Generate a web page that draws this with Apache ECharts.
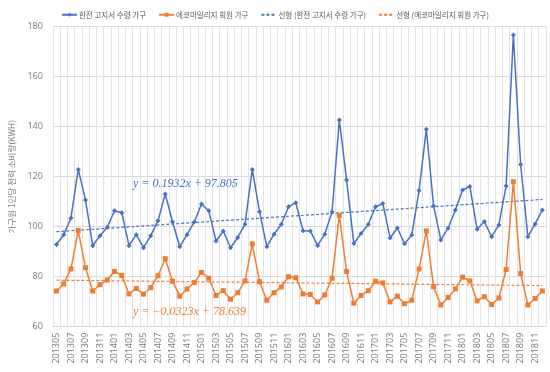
<!DOCTYPE html>
<html><head><meta charset="utf-8">
<script src="https://cdn.jsdelivr.net/npm/echarts@6/dist/echarts.min.js"></script>
<style>html,body{margin:0;padding:0;background:#fff}#c{width:550px;height:372px}</style>
</head><body><div id="c"></div>
<script>
const categories = [
 '201305','201306','201307','201308','201309','201310','201311','201312',
 '201401','201402','201403','201404','201405','201406','201407','201408','201409','201410','201411','201412',
 '201501','201502','201503','201504','201505','201506','201507','201508','201509','201510','201511','201512',
 '201601','201602','201603','201604','201605','201606','201607','201608','201609','201610','201611','201612',
 '201701','201702','201703','201704','201705','201706','201707','201708','201709','201710','201711','201712',
 '201801','201802','201803','201804','201805','201806','201807','201808','201809','201810','201811','201812'
];
const kepcoValues = [
 92.9,96.8,103.5,122.9,110.7,92.4,96.4,99.8,
 106.4,105.6,92.4,96.8,91.6,96.4,102.4,113.1,102.0,92.0,96.8,101.9,
 109.1,106.4,94.3,98.3,91.6,95.7,101.0,122.9,106.0,92.0,97.0,101.0,
 108.0,109.6,98.4,98.3,92.5,97.0,106.0,142.7,118.7,93.3,97.3,101.0,
 108.0,109.3,95.5,99.5,93.2,96.7,114.5,139.0,108.3,94.7,99.4,106.7,
 114.7,116.1,99.0,102.1,96.0,100.7,116.3,176.7,124.9,96.0,101.1,106.7
];
const ecoValues = [
 74.3,77.1,83.1,98.5,83.6,74.3,76.8,78.7,
 82.1,80.5,73.1,75.3,73.0,75.6,80.4,87.2,78.2,72.2,75.1,77.7,
 81.7,79.4,72.5,74.4,71.0,73.6,78.3,93.1,78.0,70.6,73.6,75.9,
 80.0,79.6,73.1,72.9,69.9,72.7,79.4,104.5,82.1,69.4,72.5,74.4,
 78.2,77.5,69.9,72.2,69.2,70.6,83.1,98.3,76.0,68.7,71.7,75.1,
 79.8,78.3,70.3,72.0,68.9,71.5,82.9,118.0,81.3,68.7,71.3,74.3
];
// trendline endpoints (from the chart's equations, first and last month)
const kepcoTrendEnds = [98.0, 110.9];
const ecoTrendEnds = [78.61, 76.44];
const yTicks = {min: 60, max: 180, interval: 20};
const names = ['한전 고지서 수령 가구','에코마일리지 회원 가구','선형 (한전 고지서 수령 가구)','선형 (에코마일리지 회원 가구)'];
const eqKepco = 'y = 0.1932x + 97.805';
const eqEco = 'y = −0.0323x + 78.639';

function endsSeries(ends){
  const a = categories.map(()=>null);
  a[0] = ends[0]; a[a.length-1] = ends[1];
  return a;
}
const BLUE = '#4472C4', ORANGE = '#ED7D31';
const chart = echarts.init(document.getElementById('c'));
chart.setOption({
  animation: false,
  legend: {
    top: 6, left: 'center', itemGap: 12, itemWidth: 15, itemHeight: 5,
    textStyle: {fontSize: 7.5, color: '#595959', fontFamily: 'Noto Sans CJK KR', padding: [0, 0, 0, -3]},
    data: [
      {name: names[0]}, {name: names[1]},
      {name: names[2], itemStyle: {opacity: 0}},
      {name: names[3], itemStyle: {opacity: 0}}
    ]
  },
  grid: {left: 39.5, right: 4, top: 26.7, bottom: 45.3},
  xAxis: {
    type: 'category', data: categories, boundaryGap: true,
    axisLine: {lineStyle: {color: '#D9D9D9'}},
    axisTick: {show: false},
    axisLabel: {interval: 1, rotate: 90, fontSize: 9, color: '#7f7f7f', margin: 6, fontFamily: 'Noto Sans'},
    splitLine: {show: true, interval: 0, lineStyle: {color: '#E3E3E3', width: 1}}
  },
  yAxis: {
    type: 'value', min: yTicks.min, max: yTicks.max, interval: yTicks.interval,
    name: '가구원 1인당 전력 소비량(KWH)', nameLocation: 'middle', nameRotate: 90, nameGap: 26,
    nameTextStyle: {fontSize: 8.5, color: '#7f7f7f', fontFamily: 'Noto Sans CJK KR'},
    axisLine: {show: false}, axisTick: {show: false},
    axisLabel: {fontSize: 9, color: '#7f7f7f', margin: 10, fontFamily: 'Noto Sans'},
    splitLine: {lineStyle: {color: '#D9D9D9', width: 1}}
  },
  series: [
    {name: names[0], type: 'line', data: kepcoValues, symbol: 'diamond', symbolSize: 5, showAllSymbol: true,
     itemStyle: {color: BLUE}, lineStyle: {color: BLUE, width: 1.5}, z: 4},
    {name: names[1], type: 'line', data: ecoValues, symbol: 'rect', symbolSize: 5, showAllSymbol: true,
     itemStyle: {color: ORANGE}, lineStyle: {color: ORANGE, width: 1.5}, z: 4},
    {name: names[2], type: 'line', data: endsSeries(kepcoTrendEnds), connectNulls: true, symbol: 'none',
     itemStyle: {color: BLUE}, lineStyle: {color: BLUE, width: 1.2, type: [3, 2]}, z: 3},
    {name: names[3], type: 'line', data: endsSeries(ecoTrendEnds), connectNulls: true, symbol: 'none',
     itemStyle: {color: ORANGE}, lineStyle: {color: ORANGE, width: 1.2, type: [3, 2]}, z: 3}
  ],
  graphic: [
    {type: 'text', left: 133, top: 178, z: 10, style: {text: eqKepco, fill: BLUE, fontSize: 12, fontStyle: 'italic', fontFamily: 'Liberation Serif'}},
    {type: 'text', left: 133, top: 306, z: 10, style: {text: eqEco, fill: ORANGE, fontSize: 12, fontStyle: 'italic', fontFamily: 'Liberation Serif'}}
  ]
});
</script></body></html>
